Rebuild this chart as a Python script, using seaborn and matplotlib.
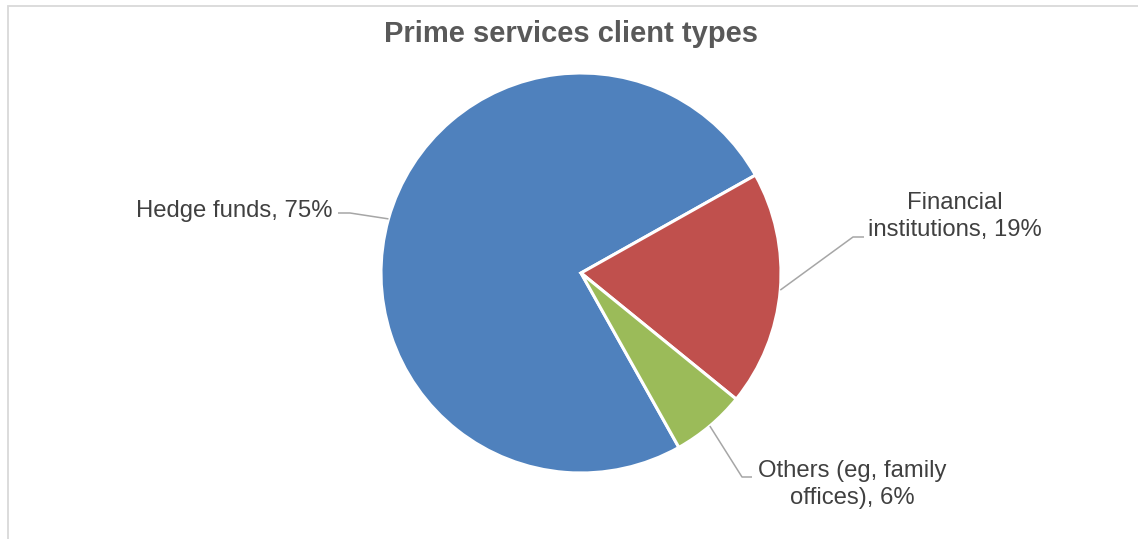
import numpy as np
import matplotlib
matplotlib.use("Agg")
import matplotlib.pyplot as plt
import seaborn as sns

# Client mix (share of prime services clients, %)
categories = ["Hedge funds", "Financial institutions", "Others (eg, family offices)"]
shares = [75, 19, 6]
label_lines = [
    ["Hedge funds, 75%"],
    ["Financial", "institutions, 19%"],
    ["Others (eg, family", "offices), 6%"],
]
title = "Prime services client types"

sns.set_theme(style="white")
plt.rcParams["font.family"] = ["Liberation Sans", "DejaVu Sans"]

colors = ["#4F81BD", "#C0504D", "#9BBB59"]
text_color = "#404040"
line_color = "#A6A6A6"

W, H = 1138, 539
fig = plt.figure(figsize=(W / 100, H / 100), dpi=100)
ax = fig.add_axes([0, 0, 1, 1])

cx, cy, r = 581, H - 273, 200
wedges, _ = ax.pie(
    shares,
    colors=colors,
    startangle=-60.7,
    counterclock=False,
    center=(cx, cy),
    radius=r,
    wedgeprops=dict(edgecolor="white", linewidth=2.2),
    frame=True,
)
ax.set_xlim(0, W)
ax.set_ylim(0, H)
ax.set_aspect("auto")
ax.axis("off")

# Leader lines start at each wedge's mid angle on the rim
elbows = [((350, 213), (338, 213)), ((853, 237), (864, 237)), ((742, 477), (752, 477))]
text_pos = [(333, [217]), (955, [209, 236]), (852, [477, 504])]
aligns = ["right", "center", "center"]

for w, (e1, e2), (tx, baselines), lines, ha in zip(wedges, elbows, text_pos, label_lines, aligns):
    mid = np.deg2rad((w.theta1 + w.theta2) / 2)
    x0, y0 = cx + r * np.cos(mid), cy + r * np.sin(mid)
    ax.plot([x0, e1[0], e2[0]], [y0, H - e1[1], H - e2[1]],
            color=line_color, lw=1.1, solid_capstyle="butt")
    for txt, b in zip(lines, baselines):
        ax.text(tx, H - b, txt, ha=ha, va="baseline", fontsize=17.2, color=text_color)

ax.text(571.5, H - 41.5, title, ha="center", va="baseline", fontsize=21,
        fontweight="bold", color="#595959")

# Chart border (open to the right and bottom)
ax.plot([8.5, 8.5, W + 5], [-5, H - 5.5, H - 5.5], color="#D9D9D9", lw=1.3,
        solid_joinstyle="miter", clip_on=False)

fig.savefig("out.png", dpi=100, facecolor="white")
